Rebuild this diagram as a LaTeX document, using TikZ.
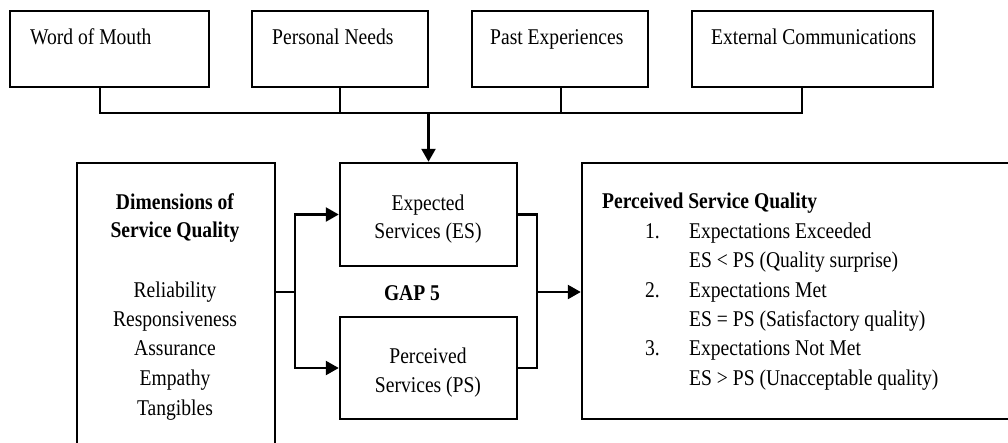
\documentclass[tikz,border=0pt]{standalone}
\usepackage{fontspec}
\setmainfont[FakeStretch=0.87]{Liberation Serif}
\usetikzlibrary{arrows.meta}
\begin{document}
\begin{tikzpicture}[x=1pt,y=-1pt,
  box/.style={draw=black, line width=2.5pt, inner sep=0pt},
  conn/.style={draw=black, line width=2.5pt},
  arr/.style={conn, -{Triangle[length=13pt,width=14pt]}},
  txt/.style={inner sep=0pt, anchor=base west, font=\fontsize{22.5}{29}\selectfont},
  ctxt/.style={inner sep=0pt, anchor=base, font=\fontsize{22.5}{29}\selectfont},
  btxt/.style={inner sep=0pt, anchor=base, font=\fontsize{22.5}{29}\selectfont\bfseries}]
\useasboundingbox (0,0) rectangle (1008,442);
\clip (0,0) rectangle (1008,442);
\fill[white] (0,0) rectangle (1008,442);

% top boxes
\node[box, minimum width=199pt, minimum height=76pt] (wom) at (109.5,49) {};
\node[box, minimum width=176pt, minimum height=76pt] (pn) at (340,49) {};
\node[box, minimum width=176pt, minimum height=76pt] (pe) at (560,49) {};
\node[box, minimum width=241pt, minimum height=76pt] (ec) at (812.5,49) {};
\node[txt] (t1) at (30,44) {Word of Mouth};
\node[txt] (t2) at (272,44) {Personal Needs};
\node[txt] (t3) at (490,44) {Past Experiences};
\node[txt] (t4) at (711,44) {External Communications};

% middle boxes
\node[box, minimum width=177pt, minimum height=103pt] (es) at (428.5,214.5) {};
\node[box, minimum width=177pt, minimum height=102pt] (ps) at (428.5,368) {};
\node[ctxt] (es1) at (428,210) {Expected};
\node[ctxt] (es2) at (428,238) {Services (ES)};
\node[ctxt] (ps1) at (428,363) {Perceived};
\node[ctxt] (ps2) at (428,392) {Services (PS)};
\node[btxt] (gap) at (412,300) {GAP 5};

% left box
\node[box, minimum width=198pt, minimum height=307pt] (dim) at (176,316.5) {};
\node[btxt] (d1) at (175,209) {Dimensions of};
\node[btxt] (d2) at (175,237) {Service Quality};
\node[ctxt] (d3) at (175,297) {Reliability};
\node[ctxt] (d4) at (175,326) {Responsiveness};
\node[ctxt] (d5) at (175,355) {Assurance};
\node[ctxt] (d6) at (175,385) {Empathy};
\node[ctxt] (d7) at (175,415) {Tangibles};

% right box
\node[box, minimum width=458pt, minimum height=256pt] (pq) at (811,291) {};
\node[txt, font=\fontsize{22.5}{29}\selectfont\bfseries] (q0) at (602,208) {Perceived Service Quality};
\node[txt] (n1) at (645,238) {1.};
\node[txt] (q1) at (689,238) {Expectations Exceeded};
\node[txt] (q2) at (689,267) {ES < PS (Quality surprise)};
\node[txt] (n2) at (645,297) {2.};
\node[txt] (q3) at (689,297) {Expectations Met};
\node[txt] (q4) at (689,326) {ES = PS (Satisfactory quality)};
\node[txt] (n3) at (645,355) {3.};
\node[txt] (q5) at (689,355) {Expectations Not Met};
\node[txt] (q6) at (689,385) {ES > PS (Unacceptable quality)};

% bus
\coordinate (b1) at (100,113);
\coordinate (b4) at (802,113);
\coordinate (b3) at (561,113);
\draw[conn] (wom.south -| b1) -- (b1) -- (b4) -- (ec.south -| b4);
\draw[conn] (pn.south) -- (pn.south |- b1);
\draw[conn] (pe.south -| b3) -- (b3);
\draw[arr] (es.north |- b1) -- (es.north);

% left split
\coordinate (split) at (295,292);
\draw[conn] (dim.east |- split) -- (split);
\draw[arr] (split) |- (es.west);
\draw[arr] (split) |- (ps.west);

% right join
\coordinate (join) at (537,292);
\draw[conn] (es.east) -| (join) |- (ps.east);
\draw[arr] (join) -- (join -| pq.west);
\end{tikzpicture}
\end{document}
